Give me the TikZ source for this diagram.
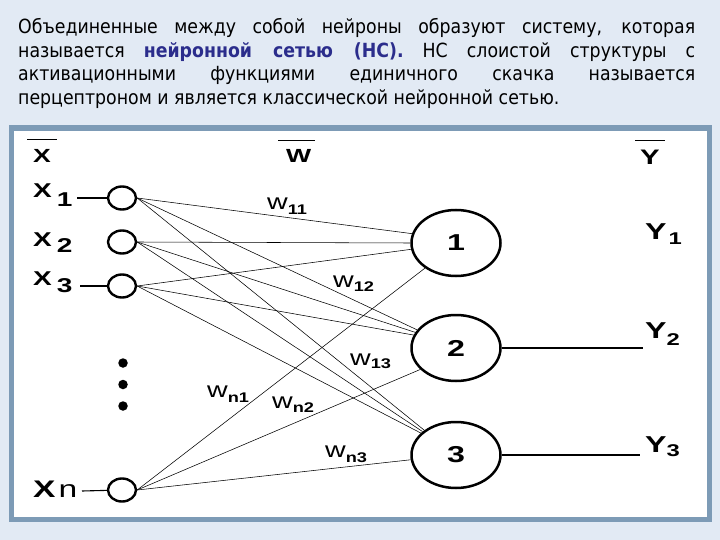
\documentclass[tikz,border=0pt]{standalone}
\usepackage{fontspec}
\usepackage{graphicx}
\setmainfont{Liberation Sans}
\newfontfamily\hdr[FakeStretch=0.89]{DejaVu Sans}
\usetikzlibrary{shapes.geometric}
\definecolor{bgblue}{RGB}{226,234,244}
\definecolor{framecol}{RGB}{125,155,182}
\definecolor{hlblue}{RGB}{43,45,140}
\newcommand{\sx}[1]{\scalebox{1.4}[1]{#1}}
\newcommand{\sw}[1]{\scalebox{1.3}[1]{#1}}
\newcommand{\fs}[1]{\fontsize{#1}{#1}\selectfont}
\tikzset{
  inp/.style={ellipse, draw, line width=2.4pt, minimum width=28pt, minimum height=23pt, inner sep=0pt},
  neur/.style={ellipse, draw, line width=2.5pt, minimum width=89pt, minimum height=66pt, inner sep=0pt, font=\fs{23}\bfseries},
  conn/.style={line width=0.55pt},
  io/.style={line width=1.1pt},
  lab/.style={inner sep=0pt, anchor=base west},
  hdrline/.style={inner sep=0pt, anchor=base west, font=\hdr\fs{19.5}},
  dotn/.style={circle, fill, inner sep=0pt, minimum size=9.5pt}
}
\begin{document}
\begin{tikzpicture}[x=1pt,y=-1pt]
\useasboundingbox (0,0) rectangle (720,540);
\fill[bgblue] (0,0) rectangle (720,540);
\draw[framecol, line width=5.5pt, fill=white] (11.5,128) rectangle (709.5,519.5);

% header text
\node[hdrline] (h1) at (18,34) {\makebox[677pt][s]{Объединенные между собой нейроны образуют систему, которая}};
\node[hdrline] (h2) at (18,57.5) {\makebox[677pt][s]{называется {\bfseries\color{hlblue}нейронной сетью (НС).} НС слоистой структуры с}};
\node[hdrline] (h3) at (18,81) {\makebox[677pt][s]{активационными функциями единичного скачка называется}};
\node[hdrline] (h4) at (18,104.5) {перцептроном и является классической нейронной сетью.};

% input neurons
\node[inp] (in1) at (122,198) {};
\node[inp] (in2) at (122,242) {};
\node[inp] (in3) at (122,286) {};
\node[inp] (inn) at (122,490) {};
\node[dotn] (d1) at (123,363) {};
\node[dotn] (d2) at (123,384.5) {};
\node[dotn] (d3) at (123,406) {};

% layer neurons
\node[neur] (n1) at (456,243) {\sx{1}};
\node[neur] (n2) at (456,348) {\sx{2}};
\node[neur] (n3) at (456,455) {\sx{3}};

% connections
\draw[conn] (in1.east) -- (n1.168);
\draw[conn] (in2.east) -- (n1.180);
\draw[conn] (in3.east) -- (n1.188);
\draw[conn] (inn.east) -- (n1.219);
\draw[conn] (in1.east) -- (n2.155);
\draw[conn] (in2.east) -- (n2.159);
\draw[conn] (in3.east) -- (n2.163);
\draw[conn] (inn.east) -- (n2.211);
\draw[conn] (in1.east) -- (n3.142);
\draw[conn] (in2.east) -- (n3.145);
\draw[conn] (in3.east) -- (n3.148);
\draw[conn] (inn.east) -- (n3.186);

% input and output lines
\coordinate (a1) at (77,198);
\coordinate (a3) at (80,286);
\coordinate (an) at (82,491);
\coordinate (o2) at (643,348);
\coordinate (o3) at (640,455);
\draw[io] (a1) -- (in1);
\draw[io] (a3) -- (in3);
\draw[io] (an) -- (inn);
\draw[io] (n2) -- (o2);
\draw[io] (n3) -- (o3);

% top labels
\node[lab] (tX) at (33,163) {\fs{19}\bfseries\sx{X}};
\node[lab] (tW) at (286,163) {\fs{19}\bfseries\sx{W}};
\node[lab] (tY) at (640,165) {\fs{21}\bfseries\sx{Y}};
\draw[io] ([xshift=-6pt,yshift=10pt]tX.north west) -- ([xshift=6pt,yshift=10pt]tX.north east);
\draw[io] ([xshift=-8pt,yshift=9pt]tW.north west) -- ([xshift=3pt,yshift=9pt]tW.north east);
\draw[io] ([xshift=-5pt,yshift=10pt]tY.north west) -- ([xshift=5pt,yshift=10pt]tY.north east);

% input labels
\node[lab] (lx1) at (33,198) {\fs{20}\bfseries\sx{X}\hspace{5pt}\raisebox{-9pt}{\fs{20}\sx{1}}};
\node[lab] (lx2) at (33,246) {\fs{20}\bfseries\sx{X}\hspace{5pt}\raisebox{-6pt}{\fs{20}\sx{2}}};
\node[lab] (lx3) at (33,285) {\fs{20}\bfseries\sx{X}\hspace{5pt}\raisebox{-7pt}{\fs{20}\sx{3}}};
\node[lab] (lxn) at (33,497) {\fs{24}{\bfseries\sx{X}}\hspace{3pt}\sx{n}};

% output labels
\node[lab] (ly1) at (645,240) {\fs{23}\bfseries\sx{Y}\hspace{2pt}\raisebox{-5pt}{\fs{17}\sx{1}}};
\node[lab] (ly2) at (645,338) {\fs{23}\bfseries\sx{Y}\hspace{0pt}\raisebox{-7pt}{\fs{17}\sx{2}}};
\node[lab] (ly3) at (645,452) {\fs{23}\bfseries\sx{Y}\hspace{0pt}\raisebox{-4pt}{\fs{17}\sx{3}}};

% weight labels
\node[lab] (w11) at (267,210) {\fs{22}\sw{w}\raisebox{-5pt}{\fs{14}\bfseries\sw{11}}};
\node[lab] (w12) at (333,287) {\fs{22}\sw{w}\raisebox{-5pt}{\fs{14}\bfseries\sw{12}}};
\node[lab] (w13) at (350,365) {\fs{22}\sw{w}\raisebox{-3pt}{\fs{14}\bfseries\sw{13}}};
\node[lab] (wn1) at (207,397) {\fs{22}\sw{w}\raisebox{-5pt}{\fs{14}\bfseries\sw{n1}}};
\node[lab] (wn2) at (272,408) {\fs{22}\sw{w}\raisebox{-4pt}{\fs{14}\bfseries\sw{n2}}};
\node[lab] (wn3) at (325,457) {\fs{22}\sw{w}\raisebox{-5pt}{\fs{14}\bfseries\sw{n3}}};
\end{tikzpicture}
\end{document}
